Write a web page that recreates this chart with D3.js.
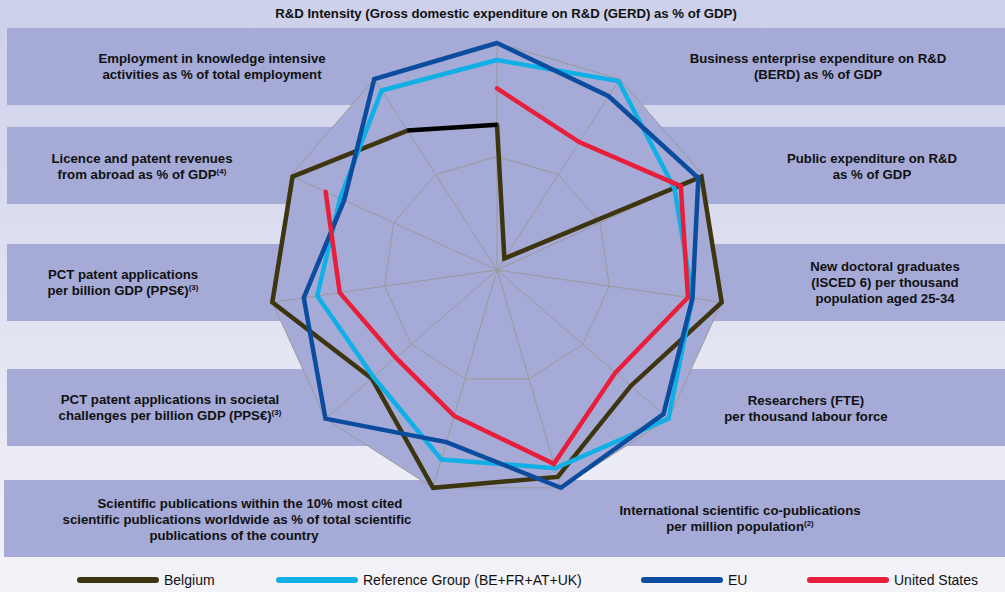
<!DOCTYPE html>
<html>
<head>
<meta charset="utf-8">
<script src="https://cdn.jsdelivr.net/npm/d3@7"></script>
<style>
  body { margin: 0; overflow: hidden; }
  svg text { font-family: "Liberation Sans", Arial, sans-serif; }
</style>
</head>
<body>
<div id="radar"></div>
<script>
// axis order: clockwise from the top
const indicators = [
    "R&D Intensity", "BERD", "Public expenditure on R&D", "New doctoral graduates",
    "Researchers", "International co-publications", "Top 10% publications",
    "PCT societal", "PCT patents", "Licence and patent revenues", "Employment KIA"
];
const belgium = [0.64, 0.06, 0.99, 1.0, 0.78, 0.95, 1.0, 0.73, 1.0, 0.99, 0.73];
const refGroup = [0.925, 0.99, 0.86, 0.87, 1.0, 0.91, 0.87, 0.72, 0.80, 0.76, 0.94];
const eu = [1.0, 0.91, 0.975, 0.87, 0.97, 1.0, 0.79, 1.0, 0.86, 0.74, 1.0];
const us = [0.80, 0.67, 0.89, 0.85, 0.69, 0.89, 0.67, 0.59, 0.70, 0.83, null];
const rings = [0.5, 1];

const seriesNames = ["Belgium", "Reference Group (BE+FR+AT+UK)", "EU", "United States"];
const seriesColors = ["#3d3410", "#10b0e6", "#0b4c9f", "#e81e3a"];

const width = 1005, height = 592;
const cx = 497, cy = 270, R = 227;

const svg = d3.select("#radar").append("svg")
    .attr("width", width)
    .attr("height", height);

// background
const grad = svg.append("defs").append("linearGradient")
    .attr("id", "bg").attr("x1", 0).attr("y1", 0).attr("x2", 0).attr("y2", 1);
grad.append("stop").attr("offset", "0%").attr("stop-color", "#cdd0ea");
grad.append("stop").attr("offset", "100%").attr("stop-color", "#f3f3f8");
svg.append("rect").attr("width", width).attr("height", height).attr("fill", "url(#bg)");

// label bands
const bands = [[7, 28, 105], [7, 127, 204], [7, 244, 321], [7, 369, 446], [4, 480, 557]];
svg.selectAll(".band")
    .data(bands)
    .join("rect")
    .attr("x", d => d[0])
    .attr("y", d => d[1])
    .attr("width", d => width - d[0])
    .attr("height", d => d[2] - d[1])
    .attr("fill", "#a5aad7");

const r = d3.scaleLinear().domain([0, 1]).range([0, R]);
const angle = d3.scaleLinear().domain([0, indicators.length]).range([0, 2 * Math.PI]);
const pt = (i, v) => [cx + Math.sin(angle(i)) * r(v), cy - Math.cos(angle(i)) * r(v)];

const g = svg.append("g");

// outer area fill
g.append("polygon")
    .attr("points", indicators.map((d, i) => pt(i, 1).join(",")).join(" "))
    .attr("fill", "#a5aad7");

// grid rings and spokes
g.selectAll(".ring")
    .data(rings)
    .join("polygon")
    .attr("points", v => indicators.map((d, i) => pt(i, v).join(",")).join(" "))
    .attr("fill", "none")
    .attr("stroke", "#9a9a9a")
    .attr("stroke-width", 1);

g.selectAll(".spoke")
    .data(indicators)
    .join("line")
    .attr("x1", cx).attr("y1", cy)
    .attr("x2", (d, i) => pt(i, 1)[0])
    .attr("y2", (d, i) => pt(i, 1)[1])
    .attr("stroke", "#9a9a9a")
    .attr("stroke-width", 1);

// series lines
const line = d3.line()
    .defined(d => d.v !== null)
    .x(d => pt(d.i, d.v)[0])
    .y(d => pt(d.i, d.v)[1]);

[belgium, refGroup, eu, us].forEach((vals, k) => {
    const pts = vals.map((v, i) => ({ i, v }));
    if (k !== 0 && vals[vals.length - 1] !== null) pts.push({ i: 0, v: vals[0] });
    g.append("path")
        .attr("d", line(pts))
        .attr("fill", "none")
        .attr("stroke", seriesColors[k])
        .attr("stroke-width", 4.5)
        .attr("stroke-linejoin", "miter")
        .attr("stroke-linecap", "round");
    if (k === 0) {
        // Belgium's closing segment is drawn in black
        g.append("path")
            .attr("d", line([{ i: vals.length - 1, v: vals[vals.length - 1] }, { i: 0, v: vals[0] }]))
            .attr("fill", "none")
            .attr("stroke", "#000")
            .attr("stroke-width", 4.5);
    }
});

// title and indicator labels
svg.append("text")
    .attr("x", 506).attr("y", 18)
    .attr("text-anchor", "middle")
    .attr("font-size", 13.2).attr("font-weight", "bold")
    .attr("fill", "#111")
    .text("R&D Intensity (Gross domestic expenditure on R&D (GERD) as % of GDP)");

const labels = [
    { x: 212, y: 58, lines: ["Employment in knowledge intensive", "activities as % of total employment"] },
    { x: 142, y: 158, lines: ["Licence and patent revenues", "from abroad as % of GDP|(4)"] },
    { x: 123, y: 274, lines: ["PCT patent applications", "per billion GDP (PPS€)|(3)"] },
    { x: 170, y: 399, lines: ["PCT patent applications in societal", "challenges per billion GDP (PPS€)|(3)"] },
    { x: [250, 237, 234], y: 503, lines: ["Scientific publications within the 10% most cited", "scientific publications worldwide as % of total scientific", "publications of the country"] },
    { x: 740, y: 510, lines: ["International scientific co-publications", "per million population|(2)"] },
    { x: 818, y: 58, lines: ["Business enterprise expenditure on R&D", "(BERD) as % of GDP"] },
    { x: 872, y: 158, lines: ["Public expenditure on R&D", "as % of GDP"] },
    { x: 885, y: 266, lines: ["New doctoral graduates", "(ISCED 6) per thousand", "population aged 25-34"] },
    { x: 806, y: 400, lines: ["Researchers (FTE)", "per thousand labour force"] }
];

labels.forEach(l => {
    const t = svg.append("text")
        .attr("text-anchor", "middle")
        .attr("font-size", 13.2).attr("font-weight", "bold")
        .attr("fill", "#111");
    l.lines.forEach((s, j) => {
        const parts = s.split("|");
        t.append("tspan")
            .attr("x", Array.isArray(l.x) ? l.x[j] : l.x)
            .attr("y", l.y + 4.5 + j * 16)
            .text(parts[0]);
        if (parts[1]) {
            t.append("tspan")
                .attr("font-size", 8)
                .attr("dy", -5)
                .text(parts[1]);
        }
    });
});

// legend
const legendX = [80, 279, 644, 810];
const legend = svg.selectAll(".legend")
    .data(seriesNames)
    .join("g")
    .attr("transform", (d, i) => `translate(${legendX[i]},580)`);
legend.append("line")
    .attr("x1", 0).attr("x2", 76)
    .attr("stroke", (d, i) => seriesColors[i])
    .attr("stroke-width", 6)
    .attr("stroke-linecap", "round");
legend.append("text")
    .attr("x", 84).attr("y", 5)
    .attr("font-size", 14)
    .style("font-family", "'Liberation Sans Narrow', 'Liberation Sans', sans-serif")
    .attr("fill", "#111")
    .text(d => d);
</script>
</body>
</html>
